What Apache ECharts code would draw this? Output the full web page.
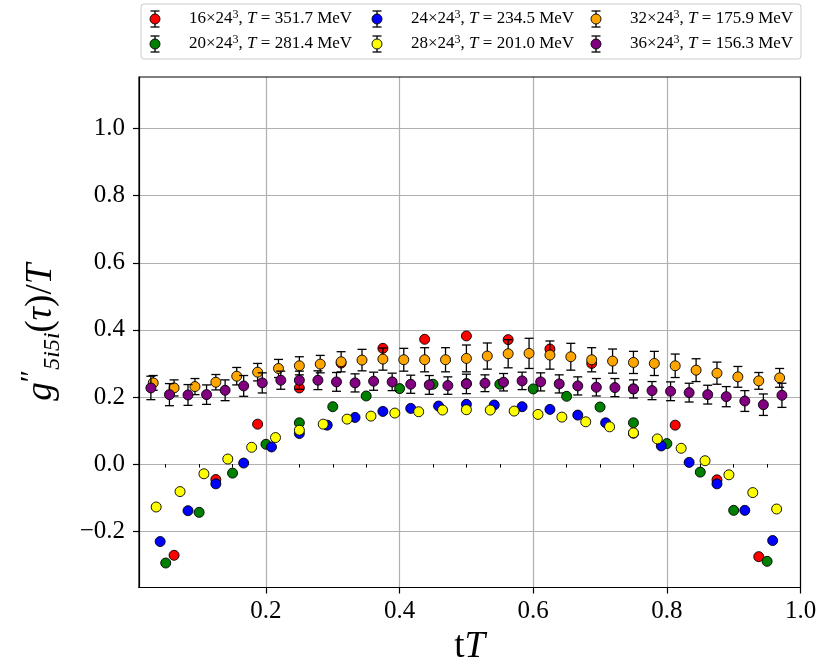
<!DOCTYPE html>
<html>
<head>
<meta charset="utf-8">
<script src="https://cdn.jsdelivr.net/npm/echarts@6/dist/echarts.min.js"></script>
<style>
  html, body { margin: 0; padding: 0; background: #fff; }
  #chart { width: 825px; height: 662px; }
</style>
</head>
<body>
<div id="chart"></div>
<script>
// Temporal lattice extents N_tau and the matching temperatures
const ntau = [16, 20, 24, 28, 32, 36];
const tempLabels = ['351.7', '281.4', '234.5', '201.0', '175.9', '156.3'];
const colors = ['#ff0000', '#008000', '#0000ff', '#ffff00', '#ffa500', '#800080'];

// g''_{5i5i}(tau)/T for tau = 1 .. N_tau-1
const g16 = [-0.272, -0.046, 0.119, 0.227, 0.301, 0.345, 0.372, 0.382, 0.371, 0.343, 0.300, 0.224, 0.116, -0.047, -0.276];
const g20 = [-0.295, -0.144, -0.027, 0.059, 0.123, 0.171, 0.203, 0.225, 0.238, 0.240, 0.238, 0.224, 0.202, 0.170, 0.123, 0.061, -0.024, -0.138, -0.290];
const g24 = [-0.231, -0.139, -0.059, 0.003, 0.051, 0.091, 0.116, 0.139, 0.157, 0.166, 0.173, 0.178, 0.176, 0.171, 0.163, 0.146, 0.123, 0.092, 0.054, 0.005, -0.059, -0.138, -0.228];
const g28 = [-0.128, -0.082, -0.029, 0.015, 0.050, 0.079, 0.101, 0.119, 0.134, 0.143, 0.152, 0.156, 0.161, 0.162, 0.161, 0.158, 0.148, 0.140, 0.126, 0.111, 0.093, 0.075, 0.047, 0.010, -0.032, -0.085, -0.134];
const g32 = [0.242, 0.227, 0.231, 0.244, 0.262, 0.274, 0.285, 0.293, 0.298, 0.305, 0.310, 0.313, 0.311, 0.311, 0.311, 0.315, 0.322, 0.329, 0.330, 0.325, 0.320, 0.311, 0.307, 0.303, 0.300, 0.293, 0.280, 0.271, 0.260, 0.248, 0.257];
const g36 = [0.227, 0.207, 0.206, 0.207, 0.220, 0.233, 0.242, 0.250, 0.250, 0.250, 0.245, 0.242, 0.247, 0.245, 0.238, 0.236, 0.234, 0.239, 0.241, 0.244, 0.248, 0.245, 0.239, 0.233, 0.229, 0.228, 0.224, 0.219, 0.217, 0.213, 0.207, 0.201, 0.188, 0.177, 0.205];

// Statistical errors
const e16 = [0.004, 0.003, 0.003, 0.003, 0.003, 0.003, 0.003, 0.003, 0.003, 0.003, 0.003, 0.003, 0.003, 0.003, 0.004];
const e20 = [0.004, 0.003, 0.003, 0.003, 0.003, 0.003, 0.003, 0.003, 0.003, 0.003, 0.003, 0.003, 0.003, 0.003, 0.003, 0.003, 0.003, 0.003, 0.004];
const e24 = [0.004, 0.003, 0.003, 0.003, 0.003, 0.003, 0.003, 0.003, 0.003, 0.003, 0.003, 0.003, 0.003, 0.003, 0.003, 0.003, 0.003, 0.003, 0.003, 0.003, 0.003, 0.003, 0.004];
const e28 = [0.006, 0.006, 0.006, 0.006, 0.006, 0.006, 0.006, 0.006, 0.006, 0.006, 0.006, 0.006, 0.006, 0.006, 0.006, 0.006, 0.006, 0.006, 0.006, 0.006, 0.006, 0.006, 0.006, 0.006, 0.006, 0.006, 0.006];
const e32 = [0.022, 0.024, 0.024, 0.023, 0.026, 0.026, 0.027, 0.027, 0.026, 0.030, 0.032, 0.033, 0.034, 0.036, 0.036, 0.040, 0.039, 0.042, 0.045, 0.042, 0.040, 0.036, 0.036, 0.033, 0.036, 0.035, 0.034, 0.033, 0.031, 0.025, 0.028];
const e36 = [0.035, 0.033, 0.031, 0.029, 0.031, 0.031, 0.030, 0.027, 0.027, 0.028, 0.028, 0.027, 0.027, 0.026, 0.027, 0.028, 0.026, 0.029, 0.025, 0.026, 0.026, 0.027, 0.027, 0.027, 0.026, 0.027, 0.027, 0.027, 0.028, 0.028, 0.028, 0.030, 0.031, 0.032, 0.036];

// Axis ticks
const xMajorTicks = [0.2, 0.4, 0.6, 0.8, 1.0];
const xMinorTicks = [0.05, 0.1, 0.15, 0.25, 0.3, 0.35, 0.45, 0.5, 0.55, 0.65, 0.7, 0.75, 0.85, 0.9, 0.95];
const yTicks = [-0.2, 0.0, 0.2, 0.4, 0.6, 0.8, 1.0];

const values = [g16, g20, g24, g28, g32, g36];
const errors = [e16, e20, e24, e28, e32, e36];

const SERIF = '"Liberation Serif", "DejaVu Serif", serif';

function fmtTick(v) {
  const s = Math.abs(v).toFixed(1);
  return v < -1e-9 ? '\u2212' + s : s;
}

const series = [];
ntau.forEach((n, s) => {
  // x = tau * T = tau / N_tau
  const pts = values[s].map((g, i) => [(i + 1) / n, g]);
  const bars = values[s].map((g, i) => [(i + 1) / n, g - errors[s][i], g + errors[s][i]]);
  series.push({
    type: 'custom',
    name: 'err' + n,
    z: 2 + s * 2,
    silent: true,
    animation: false,
    data: bars,
    encode: { x: 0, y: [1, 2] },
    renderItem: function (params, api) {
      const x = api.value(0);
      const lo = api.coord([x, api.value(1)]);
      const hi = api.coord([x, api.value(2)]);
      const w = 4.5;
      const st = { stroke: '#000', lineWidth: 1.3 };
      return {
        type: 'group',
        children: [
          { type: 'line', shape: { x1: lo[0], y1: lo[1], x2: hi[0], y2: hi[1] }, style: st },
          { type: 'line', shape: { x1: lo[0] - w, y1: lo[1], x2: lo[0] + w, y2: lo[1] }, style: st },
          { type: 'line', shape: { x1: hi[0] - w, y1: hi[1], x2: hi[0] + w, y2: hi[1] }, style: st }
        ]
      };
    }
  });
  series.push({
    type: 'scatter',
    name: 'pts' + n,
    z: 3 + s * 2,
    silent: true,
    animation: false,
    symbol: 'circle',
    symbolSize: 10,
    itemStyle: { color: colors[s], borderColor: '#000', borderWidth: 0.9, opacity: 1 },
    data: pts
  });
});

// Legend drawn as a framed box with error-bar glyphs
const legendChildren = [{
  type: 'rect',
  shape: { x: 141, y: 4, width: 660, height: 55, r: 3 },
  style: { fill: '#fff', stroke: '#cccccc', lineWidth: 1 }
}];
const colX = [155, 377, 596];
const rowY = [19, 44];
ntau.forEach((n, s) => {
  const cx = colX[Math.floor(s / 2)];
  const cy = rowY[s % 2];
  const st = { stroke: '#000', lineWidth: 1.3 };
  legendChildren.push(
    { type: 'line', shape: { x1: cx, y1: cy - 8, x2: cx, y2: cy + 8 }, style: st },
    { type: 'line', shape: { x1: cx - 4.5, y1: cy - 8, x2: cx + 4.5, y2: cy - 8 }, style: st },
    { type: 'line', shape: { x1: cx - 4.5, y1: cy + 8, x2: cx + 4.5, y2: cy + 8 }, style: st },
    { type: 'circle', shape: { cx: cx, cy: cy, r: 5 }, style: { fill: colors[s], stroke: '#000', lineWidth: 0.9 } },
    {
      type: 'text', x: cx + 34, y: cy,
      style: {
        text: '{n|' + n + '\u00d724}{sup|3}{n|, }{i|T}{n| = ' + tempLabels[s] + ' MeV}',
        verticalAlign: 'middle',
        rich: {
          n: { fontFamily: SERIF, fontSize: 17, fill: '#000', lineHeight: 20 },
          sup: { fontFamily: SERIF, fontSize: 12, fill: '#000', lineHeight: 20, verticalAlign: 'top' },
          i: { fontFamily: SERIF, fontSize: 17, fontStyle: 'italic', fill: '#000', lineHeight: 20 }
        }
      }
    }
  );
});

const option = {
  backgroundColor: '#fff',
  animation: false,
  grid: {
    left: 139, top: 77, right: 24.5, bottom: 74.5,
    outerBoundsMode: 'none', containLabel: false,
    show: true, borderColor: '#000', borderWidth: 1.2, backgroundColor: 'transparent', z: 20
  },
  xAxis: [{
    type: 'value', min: 0.01, max: 1.0,
    axisLine: { show: true, onZero: false, lineStyle: { color: '#000', width: 1.2 } },
    axisTick: { show: true, length: 6, lineStyle: { color: '#000', width: 1.2 }, customValues: xMajorTicks },
    axisLabel: {
      customValues: xMajorTicks, formatter: fmtTick, margin: 11,
      fontFamily: SERIF, fontSize: 25, color: '#000'
    },
    splitLine: { show: true, lineStyle: { color: '#b0b0b0', width: 1.2 } },
    name: '{n|t}{i|T}',
    nameLocation: 'middle', nameGap: 30,
    nameTextStyle: {
      rich: {
        n: { fontFamily: SERIF, fontSize: 37, color: '#000' },
        i: { fontFamily: SERIF, fontSize: 37, fontStyle: 'italic', color: '#000' }
      }
    }
  }, {
    type: 'value', min: 0.01, max: 1.0, position: 'bottom',
    axisLine: { show: false },
    axisTick: { show: true, length: 3.5, lineStyle: { color: '#000', width: 1 }, customValues: xMinorTicks },
    axisLabel: { show: false },
    splitLine: { show: false }
  }],
  yAxis: {
    type: 'value', min: -0.368, max: 1.154,
    axisLine: { show: true, onZero: false, lineStyle: { color: '#000', width: 1.2 } },
    axisTick: { show: true, length: 6, lineStyle: { color: '#000', width: 1.2 }, customValues: yTicks },
    axisLabel: {
      customValues: yTicks, formatter: fmtTick, margin: 14,
      fontFamily: SERIF, fontSize: 25, color: '#000'
    },
    splitLine: { show: true, lineStyle: { color: '#b0b0b0', width: 1.2 } },
    name: '{i|g}{p|\u2033}{s|5i5i}{n|(}{i|\u03c4}{n|)/}{i|T}',
    nameLocation: 'middle', nameGap: 74, nameRotate: 90,
    nameTextStyle: {
      rich: {
        n: { fontFamily: SERIF, fontSize: 37, color: '#000', lineHeight: 48 },
        i: { fontFamily: SERIF, fontSize: 37, fontStyle: 'italic', color: '#000', lineHeight: 48 },
        p: { fontFamily: SERIF, fontSize: 30, color: '#000', lineHeight: 48, verticalAlign: 'top' },
        s: { fontFamily: SERIF, fontSize: 24, fontStyle: 'italic', color: '#000', lineHeight: 28, verticalAlign: 'bottom' }
      }
    }
  },
  series: series,
  graphic: [{ type: 'group', z: 100, children: legendChildren }]
};

const chart = echarts.init(document.getElementById('chart'), null, { renderer: 'canvas' });
chart.setOption(option);
</script>
</body>
</html>
